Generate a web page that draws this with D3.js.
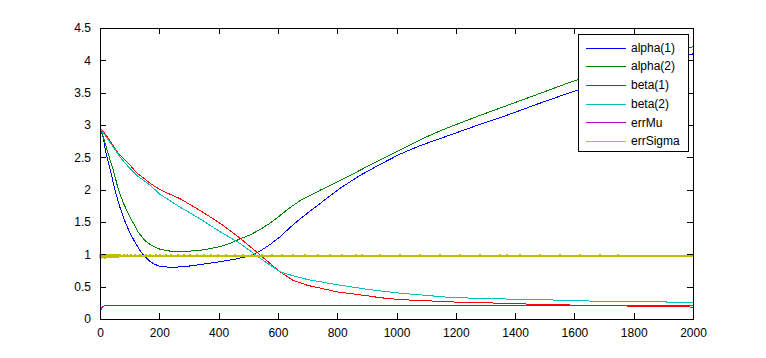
<!DOCTYPE html>
<html>
<head>
<meta charset="utf-8">
<script src="https://cdn.jsdelivr.net/npm/d3@7"></script>
<style>
  html, body { margin: 0; padding: 0; background: #ffffff; }
  svg { display: block; }
  text { font-family: "Liberation Sans", Arial, sans-serif; font-size: 12px; fill: #000; }
</style>
</head>
<body>
<svg id="chart" width="766" height="358"></svg>
<script>
// ---------- data (iteration, value) ----------
const seriesNames = ["alpha(1)", "alpha(2)", "beta(1)", "beta(2)", "errMu", "errSigma"];
const seriesColors = ["#0000ff", "#008000", "#ff0000", "#00bfbf", "#bf00bf", "#bfbf00"];

const alpha1 = [[0,2.95],[10,2.82],[20,2.57],[35,2.3],[50,2.0],[67,1.73],[85,1.5],[101,1.33],[120,1.17],[135,1.06],[150,0.97],[169,0.89],[185,0.845],[202,0.815],[236,0.80],[270,0.805],[303,0.82],[350,0.85],[405,0.886],[450,0.92],[506,0.975],[540,1.05],[573,1.15],[607,1.27],[640,1.41],[675,1.55],[742,1.785],[809,2.02],[877,2.22],[944,2.39],[1012,2.55],[1079,2.68],[1147,2.79],[1214,2.90],[1282,3.01],[1360,3.13],[1473,3.32],[1585,3.50],[1700,3.68],[1800,3.84],[1900,3.98],[2000,4.10]];
const alpha2 = [[0,2.95],[10,2.83],[28,2.55],[45,2.3],[62,2.0],[80,1.78],[101,1.58],[128,1.35],[150,1.22],[169,1.15],[202,1.08],[236,1.05],[270,1.05],[303,1.05],[350,1.07],[405,1.12],[440,1.17],[472,1.24],[506,1.30],[540,1.385],[573,1.48],[607,1.60],[640,1.72],[675,1.83],[742,1.99],[809,2.14],[877,2.30],[944,2.46],[1012,2.615],[1079,2.77],[1147,2.91],[1214,3.03],[1282,3.15],[1360,3.28],[1473,3.47],[1585,3.66],[1700,3.83],[1800,3.98],[1900,4.10],[2000,4.21]];
const beta1 = [[0,2.95],[20,2.85],[34,2.75],[60,2.57],[101,2.38],[124,2.26],[169,2.10],[202,2.0],[270,1.86],[337,1.68],[405,1.48],[472,1.25],[540,0.99],[607,0.73],[650,0.60],[700,0.52],[800,0.42],[900,0.36],[944,0.33],[1012,0.30],[1113,0.28],[1225,0.256],[1338,0.246],[1450,0.23],[1600,0.215],[1731,0.205],[1900,0.19],[2000,0.185]];
const beta2 = [[0,2.95],[34,2.73],[70,2.49],[100,2.33],[124,2.22],[169,2.07],[202,1.93],[270,1.73],[337,1.55],[405,1.35],[472,1.17],[540,0.94],[607,0.73],[650,0.67],[700,0.61],[800,0.53],[900,0.46],[944,0.435],[1012,0.40],[1079,0.374],[1169,0.338],[1282,0.317],[1394,0.307],[1506,0.297],[1619,0.28],[1787,0.27],[1956,0.26],[2000,0.258]];
const errMu = [[0,0.06],[4,0.15],[8,0.19],[14,0.205],[25,0.208],[2000,0.208]];

// errSigma: noisy band over the first iterations, then a flat level with sparse spikes
const errSigmaBand = [0.94,1.005,0.945,1.0,0.935,1.01,0.95,1.0,0.94,1.005,0.945,1.01,0.94,1.0,0.95,1.005,0.935,1.0,0.945,1.01,0.94,1.0,0.95,1.005,0.94,1.0,0.945,1.01,0.94,1.005,0.95,1.0,0.94,1.005,0.945,1.0,0.94,1.01,0.95,1.0,0.945,1.005,0.94,1.0,0.95,1.005,0.94,1.0,0.945,1.005,0.95,1.0,0.94,1.005,0.945,1.0,0.95,1.0,0.945,1.0,0.95,0.995,0.96];
const errSigmaLevel = 0.975;
const errSigmaSpikeTop = 0.995;
const errSigmaSpikes = [67,81,91,105,118,135,155,169,189,202,223,239,263,283,304,327,351,374,398,425,455,482,513,546,580,613,651,691,735,776,816,863,884,944,1012,1079,1147,1214,1282,1349,1373,1417,1484,1551,1619,1686,1747];

const xTicks = [0,200,400,600,800,1000,1200,1400,1600,1800,2000];
const yTicks = [0,0.5,1,1.5,2,2.5,3,3.5,4,4.5];

// assemble errSigma points from the values above
const errSigma = [];
errSigmaBand.forEach((v, i) => errSigma.push([i, v]));
errSigmaSpikes.forEach(s => {
  errSigma.push([s - 1, errSigmaLevel]);
  errSigma.push([s, errSigmaSpikeTop]);
  errSigma.push([s + 1, errSigmaLevel]);
});
errSigma.push([2000, errSigmaLevel]);

const allSeries = [alpha1, alpha2, beta1, beta2, errMu, errSigma];
const seriesWidths = [1, 1, 1, 1, 1, 2];

// ---------- layout ----------
const svg = d3.select("#chart");
const L = 100, R = 693, T = 28, B = 319;

const x = d3.scaleLinear().domain([0, 2000]).range([L, R]);
const y = d3.scaleLinear().domain([0, 4.5]).range([B, T]);

svg.append("rect").attr("x", 0).attr("y", 0).attr("width", 766).attr("height", 358).attr("fill", "#fff");

const line = d3.line().x(d => x(d[0])).y(d => y(d[1]));

const plot = svg.append("g");
allSeries.forEach((s, i) => {
  plot.append("path")
    .attr("d", line(s))
    .attr("fill", "none")
    .attr("stroke", seriesColors[i])
    .attr("stroke-width", seriesWidths[i])
    .attr("shape-rendering", "crispEdges");
});

// axes (ticks inside, box on)
const axB = d3.axisBottom(x).tickValues(xTicks).tickSize(-6).tickPadding(9).tickFormat(d3.format("d"));
const axT = d3.axisTop(x).tickValues(xTicks).tickSize(-6).tickFormat("");
const axL = d3.axisLeft(y).tickValues(yTicks).tickSize(-6).tickPadding(9).tickFormat(d => String(d));
const axR = d3.axisRight(y).tickValues(yTicks).tickSize(-6).tickFormat("");

function styleAxis(g) {
  g.select(".domain").remove();
  g.selectAll("line").attr("stroke", "#000").attr("shape-rendering", "crispEdges");
  g.selectAll("text").attr("font-family", "Liberation Sans, Arial, sans-serif").attr("font-size", 12).attr("fill", "#000");
}
svg.append("g").attr("transform", `translate(0,${B})`).call(axB).call(styleAxis);
svg.append("g").attr("transform", `translate(0,${T})`).call(axT).call(styleAxis);
svg.append("g").attr("transform", `translate(${L},0)`).call(axL).call(styleAxis);
svg.append("g").attr("transform", `translate(${R},0)`).call(axR).call(styleAxis);

svg.append("rect")
  .attr("x", L + 0.5).attr("y", T + 0.5)
  .attr("width", R - L).attr("height", B - T)
  .attr("fill", "none").attr("stroke", "#000").attr("stroke-width", 1)
  .attr("shape-rendering", "crispEdges");

// ---------- legend ----------
const lg = svg.append("g");
lg.append("rect")
  .attr("x", 578.5).attr("y", 34.5).attr("width", 110).attr("height", 117)
  .attr("fill", "#fff").attr("stroke", "#000").attr("stroke-width", 1)
  .attr("shape-rendering", "crispEdges");
seriesNames.forEach((n, i) => {
  const yy = 47.5 + i * 18.7;
  lg.append("line")
    .attr("x1", 586).attr("x2", 626)
    .attr("y1", Math.round(yy) + 0.5).attr("y2", Math.round(yy) + 0.5)
    .attr("stroke", seriesColors[i]).attr("stroke-width", 1)
    .attr("shape-rendering", "crispEdges");
  lg.append("text")
    .attr("x", 631).attr("y", yy)
    .attr("dy", "0.35em")
    .text(n);
});
</script>
</body>
</html>
